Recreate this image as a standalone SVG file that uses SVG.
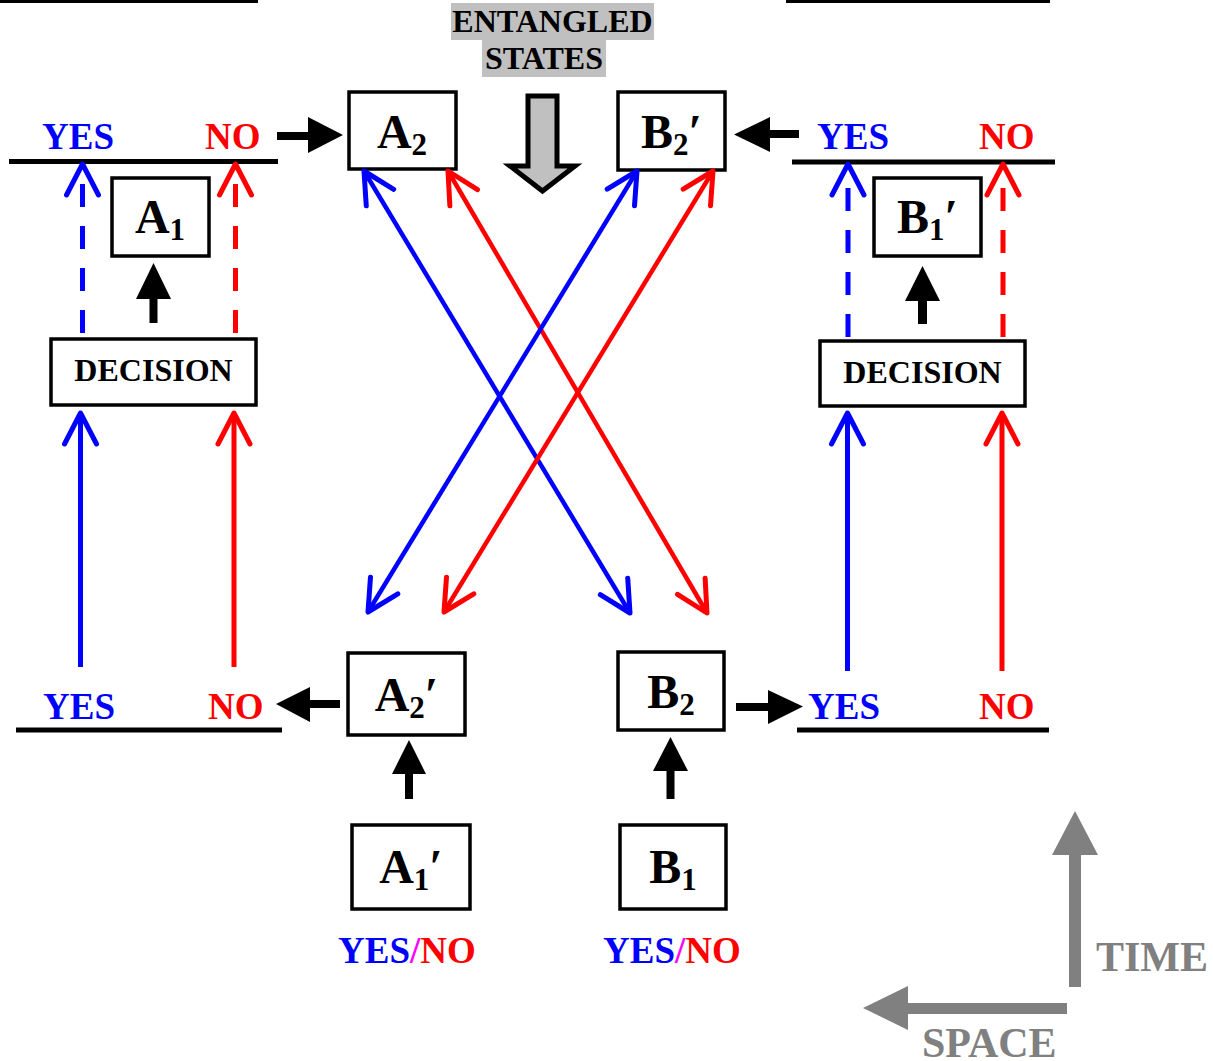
<svg xmlns="http://www.w3.org/2000/svg" width="1213" height="1061" viewBox="0 0 1213 1061">
<style>
text{font-family:'Liberation Serif','Times New Roman',serif;font-weight:bold}
.box{fill:#fff;stroke:#000;stroke-width:3.5}
.big{font-size:48px;text-anchor:middle;fill:#000}
.sub{font-size:31px}
.yn{font-size:37px}
.yes{fill:#00f}
.no{fill:#f00}
.sl{fill:#f0f}
.bar{stroke:#000;stroke-width:5}
.b{stroke:#00f;fill:none}
.r{stroke:#f00;fill:none}
.v{stroke-width:5}
.x{stroke-width:4.5}
.d{stroke-dasharray:23 19}
.blk{fill:#000}
.gray{fill:#808080}
.dec{font-size:32px;text-anchor:middle}
</style>
<defs>
<marker id="hb" markerUnits="userSpaceOnUse" orient="auto-start-reverse" overflow="visible" refX="0" refY="0" markerWidth="1" markerHeight="1">
<path d="M-31,-16 L0,0 L-31,16" fill="none" stroke="#00f" stroke-width="5" stroke-linecap="round" stroke-linejoin="round"/>
</marker>
<marker id="hr" markerUnits="userSpaceOnUse" orient="auto-start-reverse" overflow="visible" refX="0" refY="0" markerWidth="1" markerHeight="1">
<path d="M-31,-16 L0,0 L-31,16" fill="none" stroke="#f00" stroke-width="5" stroke-linecap="round" stroke-linejoin="round"/>
</marker>
</defs>
<rect width="1213" height="1061" fill="#fff"/>

<g id="top-rules">
<line x1="0" y1="0.5" x2="258" y2="0.5" class="bar"/>
<line x1="786" y1="0.5" x2="1050" y2="0.5" class="bar"/>
</g>

<g id="entangled-states">
<rect x="451" y="3" width="203" height="37" fill="#c0c0c0"/>
<rect x="482" y="40" width="124" height="37" fill="#c0c0c0"/>
<text x="552.5" y="32" font-size="32" text-anchor="middle">ENTANGLED</text>
<text x="544" y="69" font-size="32" text-anchor="middle">STATES</text>
<path d="M528,96 L557,96 L557,166 L575,166 L542.5,191 L510,166 L528,166 Z" fill="#c0c0c0" stroke="#000" stroke-width="5"/>
</g>

<g id="outcome-top-left">
<line x1="9" y1="161.5" x2="278" y2="161.5" class="bar"/>
<text x="42" y="149" class="yn yes">YES</text>
<text x="205" y="149" class="yn no">NO</text>
</g>
<g id="outcome-top-right">
<line x1="792" y1="162" x2="1055" y2="162" class="bar"/>
<text x="817" y="149" class="yn yes">YES</text>
<text x="979" y="149" class="yn no">NO</text>
</g>
<g id="outcome-bottom-left">
<line x1="16" y1="730" x2="282" y2="730" class="bar"/>
<text x="43" y="719" class="yn yes">YES</text>
<text x="208" y="719" class="yn no">NO</text>
</g>
<g id="outcome-bottom-right">
<line x1="797" y1="730" x2="1049" y2="730" class="bar"/>
<text x="808" y="719" class="yn yes">YES</text>
<text x="979" y="719" class="yn no">NO</text>
</g>

<g id="node-A2">
<rect x="349" y="92" width="107" height="77" class="box"/>
<text x="402" y="148" class="big">A<tspan class="sub" dy="7">2</tspan></text>
</g>
<g id="node-B2p">
<rect x="618" y="92" width="107" height="78" class="box"/>
<text x="671.5" y="148" class="big">B<tspan class="sub" dy="7">2</tspan><tspan dy="-7">′</tspan></text>
</g>
<g id="node-A1">
<rect x="112" y="178" width="97" height="78" class="box"/>
<text x="160" y="233" class="big">A<tspan class="sub" dy="7">1</tspan></text>
</g>
<g id="node-B1p">
<rect x="874" y="178" width="107" height="78" class="box"/>
<text x="927.5" y="233" class="big">B<tspan class="sub" dy="7">1</tspan><tspan dy="-7">′</tspan></text>
</g>
<g id="node-decision-left">
<rect x="51" y="339" width="205" height="66" class="box"/>
<text x="153.5" y="381" class="dec">DECISION</text>
</g>
<g id="node-decision-right">
<rect x="820" y="341" width="205" height="65" class="box"/>
<text x="922.5" y="383" class="dec">DECISION</text>
</g>
<g id="node-A2p">
<rect x="348" y="653" width="117" height="82" class="box"/>
<text x="406.5" y="711" class="big">A<tspan class="sub" dy="7">2</tspan><tspan dy="-7">′</tspan></text>
</g>
<g id="node-B2">
<rect x="618" y="652" width="106" height="78" class="box"/>
<text x="671" y="708" class="big">B<tspan class="sub" dy="7">2</tspan></text>
</g>
<g id="node-A1p">
<rect x="352" y="825" width="118" height="84" class="box"/>
<text x="411" y="883" class="big">A<tspan class="sub" dy="7">1</tspan><tspan dy="-7">′</tspan></text>
<text x="338" y="963" class="yn"><tspan class="yes">YES</tspan><tspan class="sl">/</tspan><tspan class="no">NO</tspan></text>
</g>
<g id="node-B1">
<rect x="620" y="825" width="106" height="84" class="box"/>
<text x="673" y="883" class="big">B<tspan class="sub" dy="7">1</tspan></text>
<text x="603" y="963" class="yn"><tspan class="yes">YES</tspan><tspan class="sl">/</tspan><tspan class="no">NO</tspan></text>
</g>

<g id="axes">
<path d="M1069,987 L1069,855 L1052,855 L1075,811 L1098,855 L1081,855 L1081,987 Z" class="gray"/>
<path d="M1067,1003 L908,1003 L908,986 L863,1008 L908,1030 L908,1014 L1067,1014 Z" class="gray"/>
<text x="1096" y="971" font-size="42" class="gray">TIME</text>
<text x="922" y="1057" font-size="42" class="gray">SPACE</text>
</g>

<g id="connectors">
<line x1="364" y1="171" x2="630" y2="613" class="b x" marker-start="url(#hb)" marker-end="url(#hb)"/>
<line x1="448" y1="171" x2="707" y2="613" class="r x" marker-start="url(#hr)" marker-end="url(#hr)"/>
<line x1="637" y1="171" x2="368" y2="612" class="b x" marker-start="url(#hb)" marker-end="url(#hb)"/>
<line x1="713" y1="171" x2="444" y2="612" class="r x" marker-start="url(#hr)" marker-end="url(#hr)"/>
<line x1="80.5" y1="667" x2="80.5" y2="413" class="b v" marker-end="url(#hb)"/>
<line x1="234" y1="667" x2="234" y2="413" class="r v" marker-end="url(#hr)"/>
<line x1="847.5" y1="671" x2="847.5" y2="413" class="b v" marker-end="url(#hb)"/>
<line x1="1002" y1="671" x2="1002" y2="413" class="r v" marker-end="url(#hr)"/>
<line x1="82.5" y1="333" x2="82.5" y2="164" class="b v d" marker-end="url(#hb)"/>
<line x1="235.5" y1="333" x2="235.5" y2="164" class="r v d" marker-end="url(#hr)"/>
<line x1="848" y1="337" x2="848" y2="164" class="b v d" marker-end="url(#hb)"/>
<line x1="1003" y1="337" x2="1003" y2="164" class="r v d" marker-end="url(#hr)"/>
<path d="M149.5,323 L149.5,299 L136,299 L153.5,263 L171,299 L157.5,299 L157.5,323 Z" class="blk"/>
<path d="M918,324 L918,301 L905,301 L922.5,266 L940,301 L927,301 L927,324 Z" class="blk"/>
<path d="M405,799 L405,774 L392,774 L409,740 L426,774 L413,774 L413,799 Z" class="blk"/>
<path d="M666.5,799 L666.5,771 L653,771 L670.5,737 L688,771 L674.5,771 L674.5,799 Z" class="blk"/>
<path d="M277,132 L308,132 L308,117 L343,135 L308,153 L308,140 L277,140 Z" class="blk"/>
<path d="M799,130 L770,130 L770,117 L734,134.5 L770,152 L770,138 L799,138 Z" class="blk"/>
<path d="M340,700 L310,700 L310,687 L276,704 L310,722 L310,708 L340,708 Z" class="blk"/>
<path d="M736,703 L768,703 L768,690 L803,706.5 L768,724 L768,711 L736,711 Z" class="blk"/>
</g>
</svg>
